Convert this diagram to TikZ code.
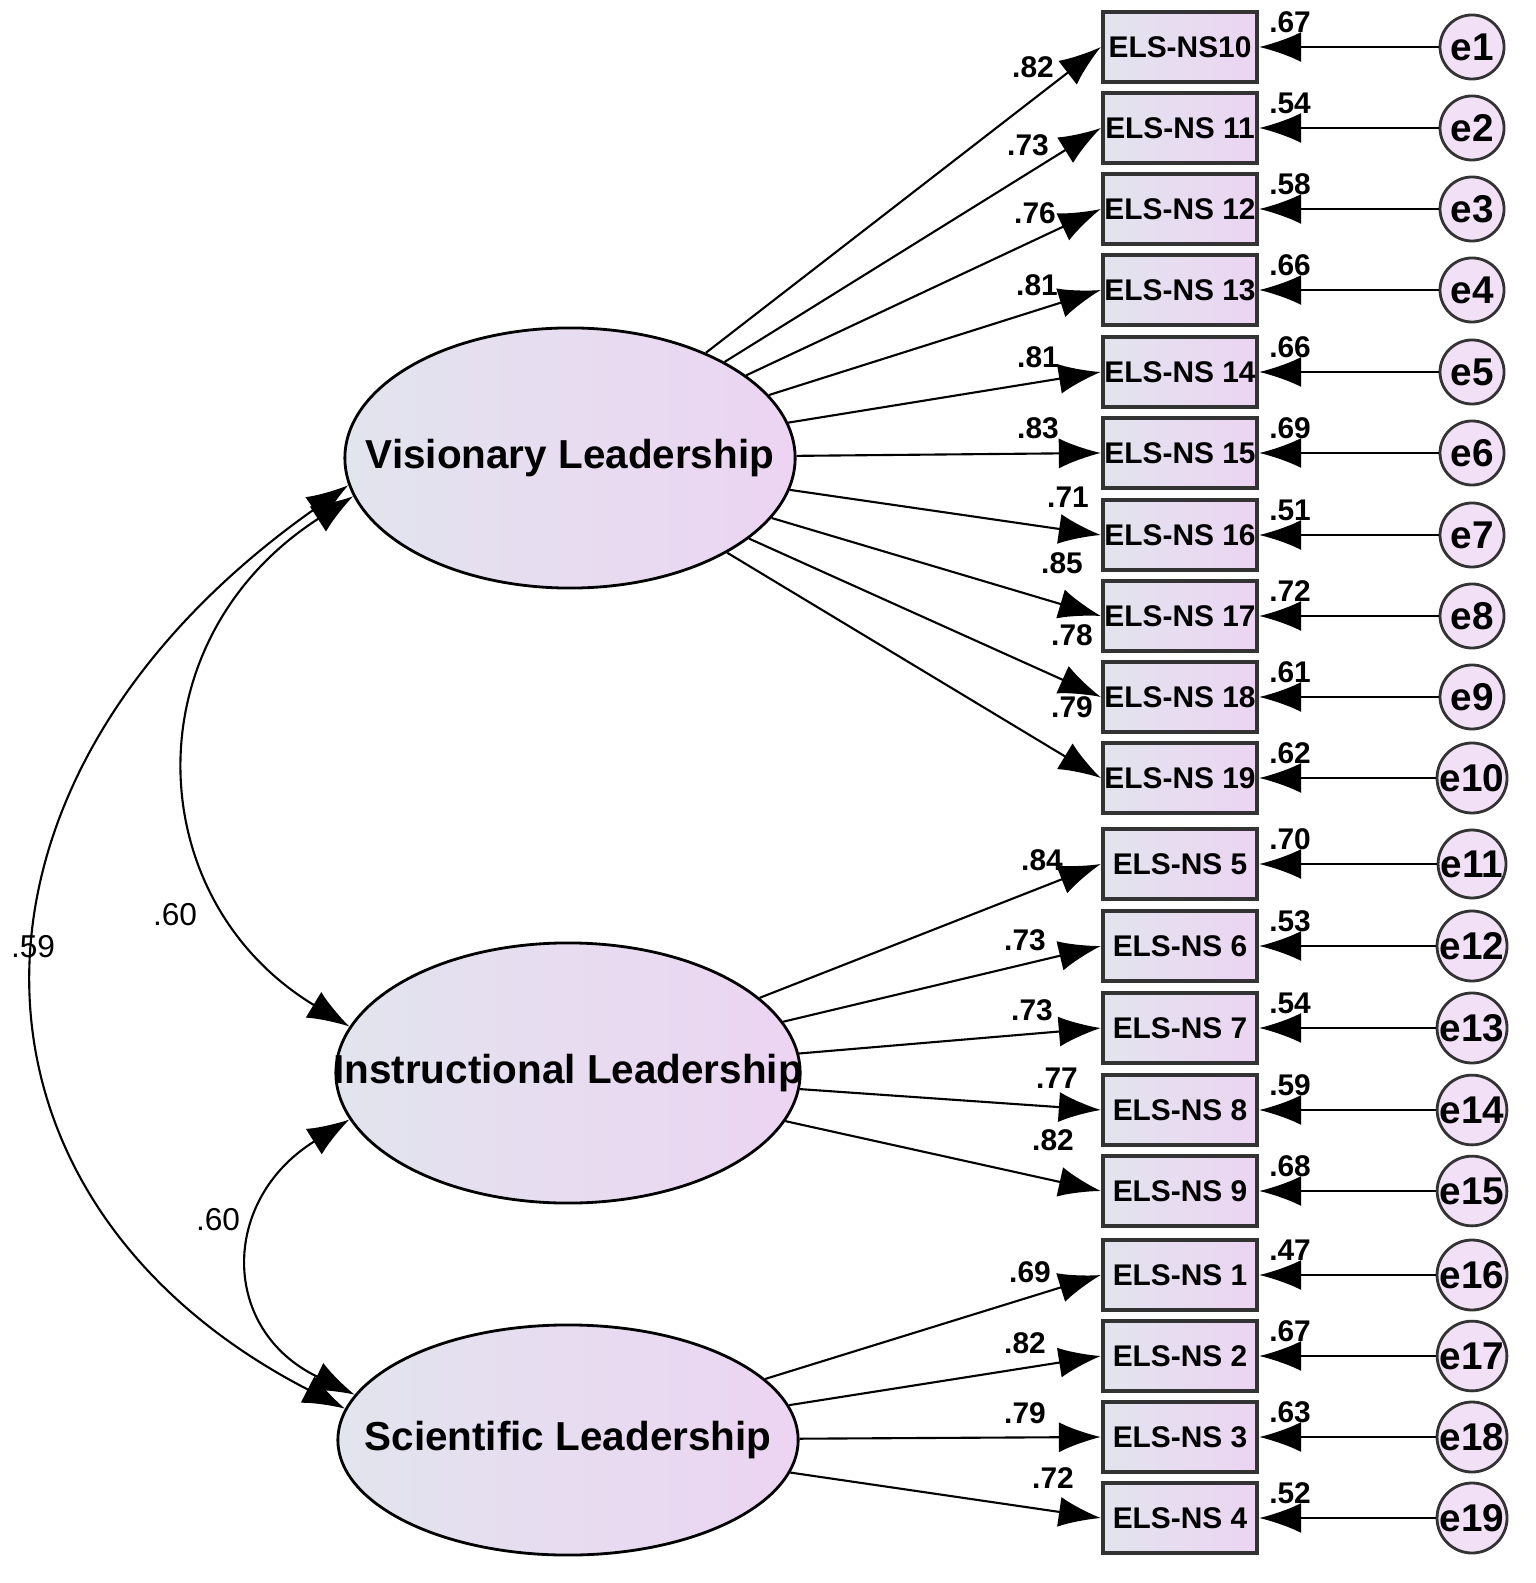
\documentclass[tikz,border=0pt]{standalone}
\usepackage{fontspec}
\setmainfont{Liberation Sans}
\usepackage{tikz}
\usetikzlibrary{positioning,arrows.meta,shapes.geometric}
\definecolor{lvleft}{RGB}{226,228,238}
\definecolor{lvright}{RGB}{236,212,242}

\begin{document}
\begin{tikzpicture}
    [x=0.01cm, y=-0.01cm,
      latent/.style={ellipse, draw=black, thick, inner sep=0pt, left color=lvleft, right color=lvright},
      lname/.style={font=\bfseries\fontsize{11.5}{13}\selectfont},
      item/.style={rectangle, draw=black!80, very thick, minimum width=1.54cm, minimum height=0.7cm, inner sep=0pt, left color=lvleft, right color=lvright, font=\bfseries\fontsize{8.5}{10}\selectfont},
      err/.style={circle, draw=black!80, thick, minimum size=0.64cm, inner sep=0pt, fill=lvright!70, font=\bfseries\fontsize{11}{13}\selectfont},
      num/.style={font=\bfseries\fontsize{8.5}{10}\selectfont, inner sep=0pt},
      cnum/.style={font=\fontsize{9}{11}\selectfont, inner sep=0pt},
      darc/.style={-{Latex[length=4.2mm,width=3mm]}, semithick},
      carc/.style={{Latex[length=4.2mm,width=3mm]}-{Latex[length=4.2mm,width=3mm]}, semithick}]

    \useasboundingbox (0,0) rectangle (1535,1583);

    \node (vl) at (570,458) [latent, minimum width=4.5cm, minimum height=2.6cm] {};
    \node (il) at (568,1073) [latent, minimum width=4.64cm, minimum height=2.6cm] {};
    \node (sl) at (568,1440) [latent, minimum width=4.6cm, minimum height=2.3cm] {};
    \node[lname] at (vl) {Visionary Leadership};
    \node[lname] at (il) {Instructional Leadership};
    \node[lname] at (sl) {Scientific Leadership};

    % indicators, loadings and residuals
    \foreach \i/\y/\txt/\lat/\lx/\ly/\lam/\rsq in {
        1/47/ELS-NS10/vl/1033/67/.82/.67, 2/128/ELS-NS 11/vl/1028/145/.73/.54,
        3/209/ELS-NS 12/vl/1035/213/.76/.58, 4/290/ELS-NS 13/vl/1037/285/.81/.66,
        5/372/ELS-NS 14/vl/1038/357/.81/.66, 6/453/ELS-NS 15/vl/1038/428/.83/.69,
        7/535/ELS-NS 16/vl/1068/497/.71/.51, 8/616/ELS-NS 17/vl/1062/563/.85/.72,
        9/697/ELS-NS 18/vl/1072/635/.78/.61, 10/778/ELS-NS 19/vl/1072/707/.79/.62,
        11/864/ELS-NS 5/il/1042/860/.84/.70, 12/946/ELS-NS 6/il/1025/940/.73/.53,
        13/1028/ELS-NS 7/il/1032/1010/.73/.54, 14/1110/ELS-NS 8/il/1057/1078/.77/.59,
        15/1191/ELS-NS 9/il/1053/1140/.82/.68, 16/1275/ELS-NS 1/sl/1030/1272/.69/.47,
        17/1356/ELS-NS 2/sl/1025/1343/.82/.67, 18/1437/ELS-NS 3/sl/1025/1413/.79/.63,
        19/1518/ELS-NS 4/sl/1053/1478/.72/.52} {
      \node (b\i) at (1180,\y) [item] {\txt};
      \node (e\i) at (1472,\y) [err] {e\i};
      \draw[darc] (\lat) -- (b\i.west);
      \draw[darc] (e\i) -- (b\i.east);
      \node[num] at (\lx,\ly) {\lam};
      \node[num] at (1290,\y-25) {\rsq};
    }

    % correlations
    \draw[carc] (vl.190) .. controls (130,640) and (140,900) .. (il.168);
    \draw[carc] (vl.187) .. controls (-70,780) and (-60,1200) .. (sl.172);
    \draw[carc] (il.192) .. controls (220,1200) and (220,1330) .. (sl.168);
    \node[cnum] at (175,915) {.60};
    \node[cnum] at (33,947) {.59};
    \node[cnum] at (218,1220) {.60};
  \end{tikzpicture}
\end{document}
